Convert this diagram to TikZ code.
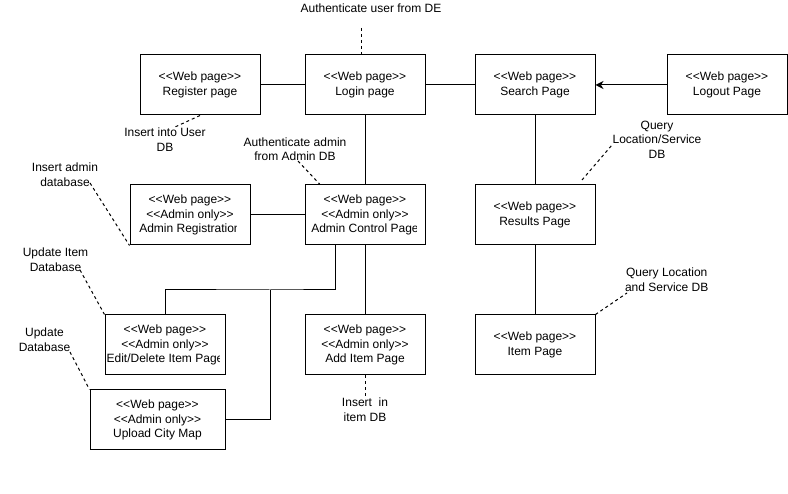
\documentclass[tikz,border=0pt]{standalone}
\usepackage{fontspec}
\newfontfamily\lsans{Liberation Sans}
\usetikzlibrary{arrows.meta}
\begin{document}
\begin{tikzpicture}[x=1pt,y=-1pt,
  txt/.style={font=\lsans\fontsize{12pt}{14.5pt}\selectfont, align=center, inner sep=0pt},
  pagebox/.style={draw, line width=1pt, minimum width=120pt, minimum height=60pt, inner sep=0pt, txt},
  wide/.style={minimum width=135pt},
  link/.style={line width=1pt},
  note/.style={line width=1pt, dash pattern=on 3pt off 3pt},
  lbl/.style={txt}
]
\useasboundingbox (0,0) rectangle (788,494);

% boxes
\node[pagebox] (reg) at (200,85) {<<Web page>>\\Register page};
\node[pagebox] (login) at (365,85) {<<Web page>>\\Login page};
\node[pagebox] (search) at (535,85) {<<Web page>>\\Search Page};
\node[pagebox] (logout) at (727,85) {<<Web page>>\\Logout Page};
\node[pagebox] (results) at (535,215) {<<Web page>>\\Results Page};
\node[pagebox] (item) at (535,345) {<<Web page>>\\Item Page};
\node[pagebox] (add) at (365,345) {<<Web page>>\\<<Admin only>>\\Add Item Page};
\node[pagebox, wide] (upload) at (157.5,420) {<<Web page>>\\<<Admin only>>\\Upload City Map};

% boxes whose text is clipped
\node[pagebox] (areg) at (190,215) {};
\begin{scope}
  \clip (areg.north west) rectangle (236,245);
  \node[txt] at (areg.center) {<<Web page>>\\<<Admin only>>\\Admin Registration};
\end{scope}
\node[pagebox] (actrl) at (365,215) {};
\begin{scope}
  \clip (actrl.north west) rectangle (416,245);
  \node[txt] at (actrl.center) {<<Web page>>\\<<Admin only>>\\Admin Control Page};
\end{scope}
\node[pagebox] (edit) at (165,345) {};
\begin{scope}
  \clip (edit.north west) rectangle (219.5,375);
  \node[txt] at (edit.center) {<<Web page>>\\<<Admin only>>\\Edit/Delete Item Page};
\end{scope}

% connectors
\draw[link] (reg) -- (login);
\draw[link] (login) -- (search);
\draw[link, -{Stealth[length=8pt,width=8pt,inset=2.5pt]}] (logout) -- (search);
\draw[link] (login) -- (actrl);
\draw[link] (areg) -- (actrl);
\draw[link] (actrl) -- (add);
\draw[link] (search) -- (results);
\draw[link] (results) -- (item);
\coordinate (j) at (270,290);
\draw[link] ([xshift=-30pt]actrl.south) |- (j) -| (edit.north);
\draw[link] (j) |- (upload.east);

% notes
\node[lbl] (n1) at (371,8) {Authenticate user from DE};
\node[lbl] (n2) at (165,139.5) {Insert into User\\DB};
\node[lbl] (n3) at (295,149) {Authenticate admin\\from Admin DB};
\node[lbl] (n4) at (65,174.5) {Insert admin\\database};
\node[lbl] (n5) at (55.5,259.5) {Update Item\\Database};
\node[lbl] (n6) at (44.5,339.5) {Update\\Database};
\node[lbl] (n7) at (365,409.5) {Insert \ in\\item DB};
\node[lbl] (n8) at (657,139.5) {Query\\Location/Service\\DB};
\node[lbl] (n9) at (666.7,279.5) {Query Location\\and Service DB};

\coordinate (c1) at (361,28);
\coordinate (c2) at (175,127);
\coordinate (c3) at (298,161);
\coordinate (c4) at (90,183);
\coordinate (c5) at (80,270);
\coordinate (c6) at (70,352);
\coordinate (c7) at (365,396);
\coordinate (c8a) at (582,180);
\coordinate (c8) at (612,145);
\coordinate (c9) at (627,293);

\draw[note] (c1) -- ([xshift=-4pt]login.north);
\draw[note] (reg.south) -- (c2);
\draw[note] (c3) -- ([xshift=-45pt]actrl.north);
\draw[note] (c4) -- (areg.south west);
\draw[note] (c5) -- (edit.north west);
\draw[note] (c6) -- (upload.north west);
\draw[note] (add.south) -- (c7);
\draw[note] (c8a) -- (c8);
\draw[note] (item.north east) -- (c9);
\end{tikzpicture}
\end{document}
